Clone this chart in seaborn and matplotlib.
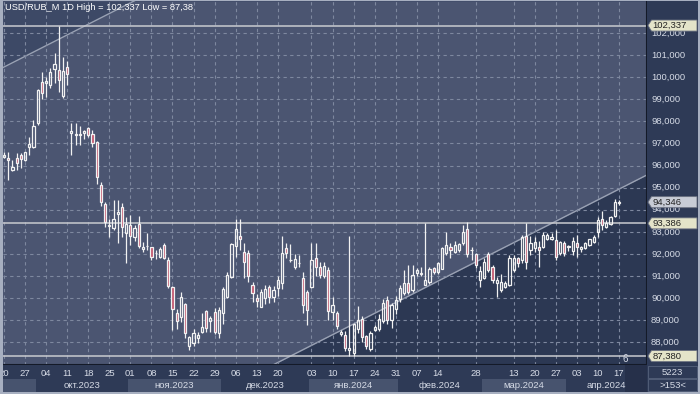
import numpy as np
import matplotlib
matplotlib.use("Agg")
import matplotlib.pyplot as plt
import seaborn as sns
from matplotlib.patches import Rectangle, Polygon

# ---------------- data ----------------
opens = [96.40, 96.36, 95.80, 96.33, 96.48, 96.25, 96.83, 96.86, 97.94, 99.80,
         99.72, 99.65, 100.37, 100.33, 99.15, 100.45, 97.46, 97.45, 97.40, 97.48,
         97.68, 97.45, 97.08, 95.12, 94.26, 93.28, 93.16, 93.82, 94.11, 92.94,
         93.31, 92.78, 93.36, 92.22, 92.35, 92.30, 92.04, 91.88, 92.41, 91.73,
         90.52, 89.34, 89.16, 89.74, 87.84, 87.99, 88.18, 88.48, 89.42, 88.97,
         89.39, 88.44, 89.34, 90.07, 90.95, 92.36, 92.80, 92.10, 92.03, 90.60,
         90.02, 89.62, 90.00, 90.49, 90.04, 90.45, 90.70, 92.26, 91.74, 91.40,
         91.57, 90.90, 90.26, 90.49, 91.81, 91.43, 91.00, 91.28, 89.39, 89.32,
         88.38, 88.33, 87.66, 87.53, 88.59, 89.05, 88.29, 87.69, 88.56, 88.59,
         88.98, 89.92, 89.01, 89.50, 89.95, 90.25, 90.67, 90.37, 91.15, 91.10,
         90.60, 90.75, 91.35, 91.20, 91.32, 92.03, 92.33, 92.10, 92.18, 92.48,
         93.12, 92.17, 91.99, 90.82, 90.90, 91.99, 91.43, 90.67, 90.37, 90.52,
         90.60, 91.28, 91.83, 91.73, 92.83, 92.18, 92.26, 92.33, 92.33, 92.70,
         92.67, 92.63, 92.03, 92.48, 92.30, 92.15, 92.51, 92.21, 92.26, 92.41,
         92.56, 93.01, 93.57, 93.21, 93.36, 93.72, 94.33]
highs = [96.63, 96.60, 96.25, 96.55, 96.55, 96.62, 97.31, 98.06, 99.48, 100.25,
         100.02, 100.40, 101.08, 102.337, 100.93, 100.75, 97.94, 97.94, 97.80, 97.62,
         97.76, 97.60, 97.13, 95.27, 94.37, 93.57, 94.44, 94.44, 94.30, 93.69,
         93.76, 93.30, 93.72, 92.55, 92.94, 92.33, 92.20, 92.33, 92.48, 91.85,
         90.55, 89.50, 90.30, 89.80, 88.30, 88.60, 88.45, 89.34, 89.45, 89.20,
         89.55, 89.60, 90.50, 91.20, 92.48, 93.57, 93.60, 92.48, 92.20, 90.73,
         90.20, 90.40, 90.60, 90.60, 90.55, 91.00, 92.81, 92.50, 92.45, 92.00,
         91.95, 91.20, 90.37, 92.48, 92.48, 91.65, 91.65, 91.43, 90.07, 89.40,
         88.55, 88.50, 92.80, 88.90, 89.65, 89.20, 88.35, 88.50, 88.80, 89.30,
         89.95, 90.10, 89.80, 90.10, 90.60, 91.28, 91.50, 91.50, 91.35, 91.40,
         93.39, 91.40, 91.40, 91.65, 92.30, 92.98, 92.50, 92.60, 92.52, 93.31,
         93.46, 92.30, 92.05, 91.45, 91.80, 92.10, 91.50, 90.95, 91.10, 90.80,
         91.95, 91.95, 91.88, 92.86, 93.39, 92.80, 92.78, 92.60, 93.00, 92.95,
         92.95, 93.09, 92.60, 92.60, 92.40, 92.75, 92.86, 92.38, 92.55, 92.70,
         92.86, 93.69, 93.96, 93.55, 93.70, 94.47, 94.44]
lows = [96.33, 95.35, 95.75, 95.80, 95.89, 96.22, 96.48, 96.80, 97.85, 99.00,
        99.12, 99.50, 99.72, 99.34, 99.05, 99.65, 96.48, 96.93, 96.93, 97.20,
        97.31, 96.85, 95.17, 94.17, 93.24, 92.76, 93.09, 92.48, 92.78, 91.61,
        92.41, 92.60, 92.26, 92.07, 92.18, 91.75, 91.77, 91.80, 91.77, 90.45,
        88.56, 88.60, 88.94, 88.19, 87.65, 87.84, 87.95, 88.41, 88.45, 88.45,
        88.40, 88.20, 88.85, 90.00, 90.90, 91.88, 92.18, 90.90, 90.75, 89.83,
        89.60, 89.58, 89.75, 89.80, 89.85, 90.10, 90.40, 91.80, 91.65, 91.33,
        91.40, 89.32, 88.79, 90.45, 91.00, 90.90, 90.90, 89.01, 89.01, 88.60,
        88.30, 87.60, 87.38, 87.40, 88.44, 88.00, 87.70, 87.60, 88.50, 88.50,
        88.90, 88.85, 88.65, 89.30, 89.85, 90.15, 90.20, 90.30, 91.00, 91.00,
        90.60, 90.65, 91.10, 91.10, 91.30, 91.95, 91.80, 92.05, 92.10, 92.40,
        91.85, 91.75, 91.35, 90.52, 90.85, 91.20, 90.70, 90.07, 90.30, 90.45,
        90.55, 91.20, 91.40, 91.60, 91.30, 91.95, 92.10, 91.43, 92.28, 92.62,
        92.62, 91.73, 91.97, 91.90, 92.15, 91.95, 91.88, 92.10, 92.22, 92.38,
        92.52, 92.78, 93.09, 93.18, 93.32, 93.69, 94.22]
closes = [96.50, 96.24, 95.95, 96.13, 96.29, 96.60, 96.98, 97.80, 99.42, 99.30,
          99.84, 100.25, 100.58, 99.87, 100.28, 100.13, 97.58, 97.38, 97.42, 97.55,
          97.40, 97.00, 95.50, 94.37, 93.46, 93.32, 93.57, 93.90, 93.21, 93.36,
          92.81, 93.16, 92.36, 92.30, 92.38, 91.85, 92.06, 92.21, 91.81, 90.55,
          89.50, 88.98, 90.07, 88.41, 88.23, 88.41, 88.33, 88.68, 88.64, 89.09,
          88.48, 89.47, 90.40, 91.05, 92.45, 93.12, 92.68, 91.65, 91.00, 90.22,
          89.87, 90.26, 90.40, 90.04, 90.37, 90.82, 92.03, 92.03, 91.72, 91.76,
          91.59, 89.69, 89.47, 91.73, 91.43, 91.05, 91.46, 89.43, 89.69, 88.74,
          88.48, 87.73, 87.76, 88.83, 89.01, 88.23, 87.84, 88.41, 88.68, 89.05,
          89.77, 89.01, 89.69, 89.92, 90.45, 90.67, 90.30, 91.05, 91.28, 91.15,
          90.82, 91.31, 91.20, 91.58, 92.26, 92.41, 92.18, 92.41, 92.44, 93.01,
          91.99, 92.19, 91.50, 91.23, 91.65, 91.28, 90.82, 90.82, 90.75, 90.67,
          91.81, 91.83, 91.58, 92.78, 91.65, 92.48, 92.53, 92.18, 92.86, 92.86,
          92.78, 91.88, 92.56, 92.03, 92.36, 92.60, 92.30, 92.30, 92.51, 92.66,
          92.78, 93.54, 93.31, 93.42, 93.66, 94.37, 94.346]

day_tick_pos = [0, 5, 10, 15, 20, 25, 30, 35, 40, 45, 50, 55, 60, 65, 73, 78, 83,
                88, 93, 98, 103, 112, 121, 126, 131, 136, 141, 146]
day_tick_labels = ["20", "27", "04", "11", "18", "25", "01", "08", "15", "22", "29",
                   "06", "13", "20", "03", "10", "17", "24", "31", "07", "14", "28",
                   "13", "20", "27", "03", "10", "17"]
month_labels = ["", "окт.2023", "ноя.2023", "дек.2023", "янв.2024", "фев.2024",
                "мар.2024", "апр.2024"]
month_start = [-0.5, 7.5, 29.5, 51.5, 72.5, 93.5, 113.5, 133.5]
month_end = [7.5, 29.5, 51.5, 72.5, 93.5, 113.5, 133.5, 152.7]

price_ticks = [88, 89, 90, 91, 92, 93, 94, 95, 96, 97, 98, 99, 100, 101, 102]
level_lines = [102.337, 93.386, 87.38]
level_labels = ["102,337", "93,386", "87,380"]
last_price = 94.346
last_label = "94,346"

upper_trend_x = [0, 30]
upper_trend_y = [100.46, 103.364]
lower_trend_x = [64.8, 150.3]
lower_trend_y = [87.07, 95.35]

title = "USD/RUB_M 1D High = 102,337 Low = 87,38"

# ---------------- style ----------------
sns.set_theme(style="dark")
plt.rcParams["font.family"] = ["Liberation Sans", "DejaVu Sans"]

BG = "#4b5571"
DARK_LOW = "#2c3853"
DARK_UP = "#3d4966"
PANEL = "#2e3a56"
GRID = "#7e889f"
WHITE = "#f2f2f2"
BEAR = "#c2566e"
TXT = "#d6dbe6"

W, H = 700, 394
def rect(x0, y0, x1, y1):
    return [x0 / W, 1 - y1 / H, (x1 - x0) / W, (y1 - y0) / H]

fig = plt.figure(figsize=(7, 3.94), dpi=100)
fig.patch.set_facecolor("#a7afc0")

XL = (-0.24, 152.66)
YL = (86.977, 103.448)

ax = fig.add_axes(rect(3, 1, 647, 365))
axr = fig.add_axes(rect(647, 1, 698, 365))
axb = fig.add_axes(rect(3, 365, 647, 392))
axc = fig.add_axes(rect(647, 365, 698, 392))

for a in (ax, axr, axb, axc):
    a.set_xticks([])
    a.set_yticks([])
    for s in a.spines.values():
        s.set_visible(False)

ax.set_facecolor(BG)
ax.set_xlim(*XL)
ax.set_ylim(*YL)

# background regions defined by the trend channel
xs = np.array(XL)
mu = (upper_trend_y[1] - upper_trend_y[0]) / (upper_trend_x[1] - upper_trend_x[0])
ml = (lower_trend_y[1] - lower_trend_y[0]) / (lower_trend_x[1] - lower_trend_x[0])
up_line = upper_trend_y[0] + mu * (xs - upper_trend_x[0])
lo_line = lower_trend_y[0] + ml * (xs - lower_trend_x[0])
ax.fill_between(xs, up_line, YL[1], color=DARK_UP, zorder=0, lw=0)
ax.fill_between(xs, YL[0], lo_line, color=DARK_LOW, zorder=0, lw=0)
sns.lineplot(x=xs, y=up_line, ax=ax, color="#9aa2b4", lw=1.0, zorder=1)
sns.lineplot(x=xs, y=lo_line, ax=ax, color="#9aa2b4", lw=1.0, zorder=1)

# grid
for p in price_ticks:
    ax.axhline(p, color=GRID, lw=0.8, ls=(0, (3, 3)), zorder=1)
for t in day_tick_pos:
    ax.axvline(t, color=GRID, lw=0.8, ls=(0, (3, 3)), zorder=1)

# level lines
for lv in level_lines:
    ax.axhline(lv, color="#c9cbd0", lw=1.1, zorder=2)

# candles
idx = np.arange(len(opens))
o = np.array(opens); c = np.array(closes); h = np.array(highs); l = np.array(lows)
top = np.maximum(o, c); bot = np.minimum(o, c)
ax.vlines(idx, top, h, color=WHITE, lw=0.9, zorder=3)
ax.vlines(idx, l, bot, color=WHITE, lw=0.9, zorder=3)
bull = c >= o
ax.bar(idx[bull], (top - bot)[bull], bottom=bot[bull], width=0.52,
       facecolor="none", edgecolor=WHITE, linewidth=0.9, zorder=4)
ax.bar(idx[~bull], (top - bot)[~bull], bottom=bot[~bull], width=0.52,
       facecolor=BEAR, edgecolor=WHITE, linewidth=0.9, zorder=4)

fig.text(5 / W, 1 - 8 / H, title, color="white", fontsize=6.7, va="center", ha="left")
ax.text(147.6, 87.02, "6", color=TXT, fontsize=7, ha="center", va="bottom", zorder=6)

# dark separators
ax.axvline(XL[1], color="#141a28", lw=1.5, zorder=6)
ax.axhline(YL[0], color="#141a28", lw=1.5, zorder=6)

# right price axis
axr.set_facecolor(PANEL)
axr.set_xlim(0, 51)
axr.set_ylim(*YL)
for p in price_ticks:
    axr.text(4, p, f"{p},000", color=TXT, fontsize=6.8, va="center", ha="left")

def tag(v, label, fc):
    hh = 0.25
    poly = Polygon([(1, v), (4.5, v + hh), (50, v + hh), (50, v - hh), (4.5, v - hh)],
                   closed=True, facecolor=fc, edgecolor="#6a7080", lw=0.6, zorder=5)
    axr.add_patch(poly)
    axr.text(5.5, v, label, color="#222222", fontsize=6.8, va="center", ha="left", zorder=6)

for lv, lb in zip(level_lines, level_labels):
    tag(lv, lb, "#e4e4c9")
tag(last_price, last_label, "#c8ccd6")

# bottom date axis
axb.set_facecolor(PANEL)
axb.set_xlim(*XL)
axb.set_ylim(27, 0)
for k, (s, e, lab) in enumerate(zip(month_start, month_end, month_labels)):
    if k % 2 == 0:
        axb.add_patch(Rectangle((s, 14), e - s, 13, facecolor="#47536e", lw=0, zorder=1))
    axb.text((s + e) / 2, 20.5, lab, color=TXT, fontsize=6.8, ha="center", va="center",
             zorder=2, clip_on=True)
axb.add_patch(Rectangle((147.5, 0), 5.2, 27, facecolor="#26304a", lw=0, zorder=1))
for t, lab in zip(day_tick_pos, day_tick_labels):
    axb.text(t, 8, lab, color=TXT, fontsize=6.8, ha="center", va="center", zorder=2,
             clip_on=True)

# corner box
axc.set_facecolor(PANEL)
axc.set_xlim(0, 51)
axc.set_ylim(27, 0)
axc.add_patch(Rectangle((1, 1), 49, 12, facecolor="none", edgecolor="#56627c", lw=0.6))
axc.add_patch(Rectangle((1, 14), 49, 12, facecolor="none", edgecolor="#56627c", lw=0.6))
axc.text(25.5, 7.5, "5223", color=TXT, fontsize=6.8, ha="center", va="center")
axc.text(25.5, 20, ">153<", color=TXT, fontsize=6.8, ha="center", va="center")

fig.savefig("out.png", dpi=100, facecolor=fig.get_facecolor())
